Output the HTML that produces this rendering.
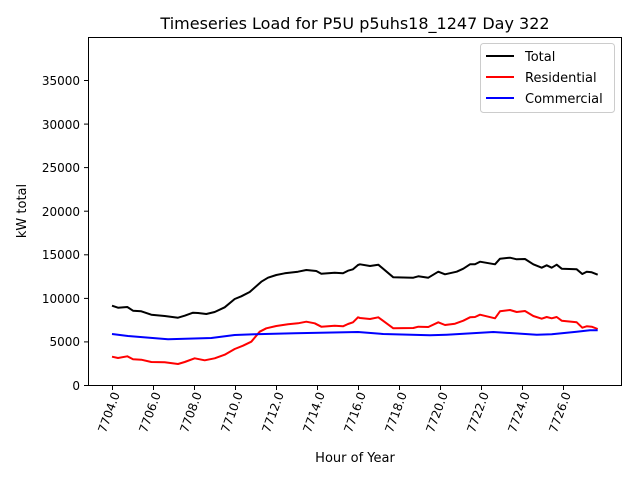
<!DOCTYPE html>
<html><head><meta charset="utf-8"><style>body{margin:0;background:#fff}svg{display:block;font-family:"DejaVu Sans","Liberation Sans",sans-serif}</style></head><body>
<svg width="640" height="480" viewBox="0 0 640 480">
<rect width="640" height="480" fill="#fff"/>
<text x="355" y="29" font-size="16" text-anchor="middle">Timeseries Load for P5U p5uhs18_1247  Day 322</text>
<g fill="none" stroke-width="2" stroke-linejoin="round">
<polyline stroke="#000" points="112,305.7 118,307.7 127.3,307 133,310.7 141.3,311.3 151.3,314.7 164.7,316 178,317.7 184.7,315.7 193,312.7 198,313 206.3,314 214.7,312 224.7,307.3 234.7,299 241.3,296.3 249.7,292 261.3,281.7 268,277.7 276.3,275 284.7,273.3 298,271.7 306.3,270 316.3,271 321.3,273.7 334.7,272.7 343,273.3 348,270.7 353,269.3 358,265 360,264.3 370,266 378.3,264.7 393.3,277.3 413.3,277.7 418.3,276.3 428.3,277.7 438.3,271.7 445,274.3 456.7,271.7 463.3,268.7 470,264.3 475,264.3 480,261.7 495,264.3 500,258.7 510,257.7 516.7,259.3 525,259 533.3,264.3 541.7,267.7 546.7,265.3 551.7,267.7 556.7,264.7 561.7,268.7 576.7,269.3 582.3,274 586.7,271.7 591.7,272.3 597.7,274.7"/>
<polyline stroke="#f00" points="112,356.7 118,358 127.3,356.3 133,359.3 141.3,359.7 151.3,362 164.7,362.3 178,364 184.7,362 194.7,358.3 204.7,360.3 214.7,358.3 224.7,354.7 234.7,349 243,345.7 251.3,341.7 259.7,331.7 266.3,328.3 276.3,326 288,324.3 298,323.3 306.3,321.7 314.7,323.3 321.3,326.7 334.7,325.7 343,326.3 348,324 353,322.3 358,317.3 360,318 370,319 378.3,317.3 393.3,328.3 413.3,328 418.3,326.7 428.3,327 438.3,322.3 445,325 455,323.7 463.3,320.7 470,317.3 475,317 480,314.7 495,318.3 500,311.3 510,310 516.7,312 525,311 533.3,316 541.7,318.7 546.7,317 551.7,318.3 556.7,317 561.7,320.7 576.7,322.3 582.3,327.7 586.7,326.3 591.7,326.7 597.7,329"/>
<polyline stroke="#00f" points="112,334 128,336 168,339.3 211.3,338 234.7,335 254.7,334.3 294.7,333.3 358,332 383.3,334 430,335.3 446.7,334.7 493.3,332 536.7,334.7 551.7,334.3 576.7,331.7 590,330.3 597.7,330.3"/>
</g>
<rect x="88.5" y="37.5" width="533" height="348" fill="none" stroke="#000" stroke-width="1"/>
<g stroke="#000" stroke-width="1">
<line x1="88" y1="385.5" x2="84" y2="385.5"/><line x1="88" y1="341.9" x2="84" y2="341.9"/><line x1="88" y1="298.4" x2="84" y2="298.4"/><line x1="88" y1="254.8" x2="84" y2="254.8"/><line x1="88" y1="211.2" x2="84" y2="211.2"/><line x1="88" y1="167.6" x2="84" y2="167.6"/><line x1="88" y1="124.1" x2="84" y2="124.1"/><line x1="88" y1="80.5" x2="84" y2="80.5"/>
<line x1="112.5" y1="386" x2="112.5" y2="390"/><line x1="153.5" y1="386" x2="153.5" y2="390"/><line x1="194.5" y1="386" x2="194.5" y2="390"/><line x1="235.5" y1="386" x2="235.5" y2="390"/><line x1="276.5" y1="386" x2="276.5" y2="390"/><line x1="317.5" y1="386" x2="317.5" y2="390"/><line x1="358.5" y1="386" x2="358.5" y2="390"/><line x1="399.5" y1="386" x2="399.5" y2="390"/><line x1="440.5" y1="386" x2="440.5" y2="390"/><line x1="481.5" y1="386" x2="481.5" y2="390"/><line x1="522.5" y1="386" x2="522.5" y2="390"/><line x1="563.5" y1="386" x2="563.5" y2="390"/>
</g>
<g font-size="12" text-anchor="end">
<text x="80" y="390">0</text><text x="80" y="346">5000</text><text x="80" y="303">10000</text><text x="80" y="259">15000</text><text x="80" y="216">20000</text><text x="80" y="172">25000</text><text x="80" y="129">30000</text><text x="80" y="85">35000</text>
<g transform="translate(120,394) rotate(-70)"><text>7704.0</text></g>
<g transform="translate(161,394) rotate(-70)"><text>7706.0</text></g>
<g transform="translate(202,394) rotate(-70)"><text>7708.0</text></g>
<g transform="translate(243,394) rotate(-70)"><text>7710.0</text></g>
<g transform="translate(284,394) rotate(-70)"><text>7712.0</text></g>
<g transform="translate(325,394) rotate(-70)"><text>7714.0</text></g>
<g transform="translate(366,394) rotate(-70)"><text>7716.0</text></g>
<g transform="translate(407,394) rotate(-70)"><text>7718.0</text></g>
<g transform="translate(448,394) rotate(-70)"><text>7720.0</text></g>
<g transform="translate(489,394) rotate(-70)"><text>7722.0</text></g>
<g transform="translate(530,394) rotate(-70)"><text>7724.0</text></g>
<g transform="translate(571,394) rotate(-70)"><text>7726.0</text></g>
</g>
<text x="355" y="462" font-size="13" text-anchor="middle">Hour of Year</text>
<text transform="translate(26,211) rotate(-90)" font-size="13" text-anchor="middle">kW total</text>
<rect x="480.5" y="43.5" width="134" height="69" rx="3" fill="#fff" fill-opacity="0.8" stroke="#ccc"/>
<g stroke-width="2"><line x1="486" y1="56" x2="514" y2="56" stroke="#000"/><line x1="486" y1="77" x2="514" y2="77" stroke="#f00"/><line x1="486" y1="98" x2="514" y2="98" stroke="#00f"/></g>
<g font-size="13"><text x="525" y="61">Total</text><text x="525" y="82">Residential</text><text x="525" y="103">Commercial</text></g>
</svg>
</body></html>
